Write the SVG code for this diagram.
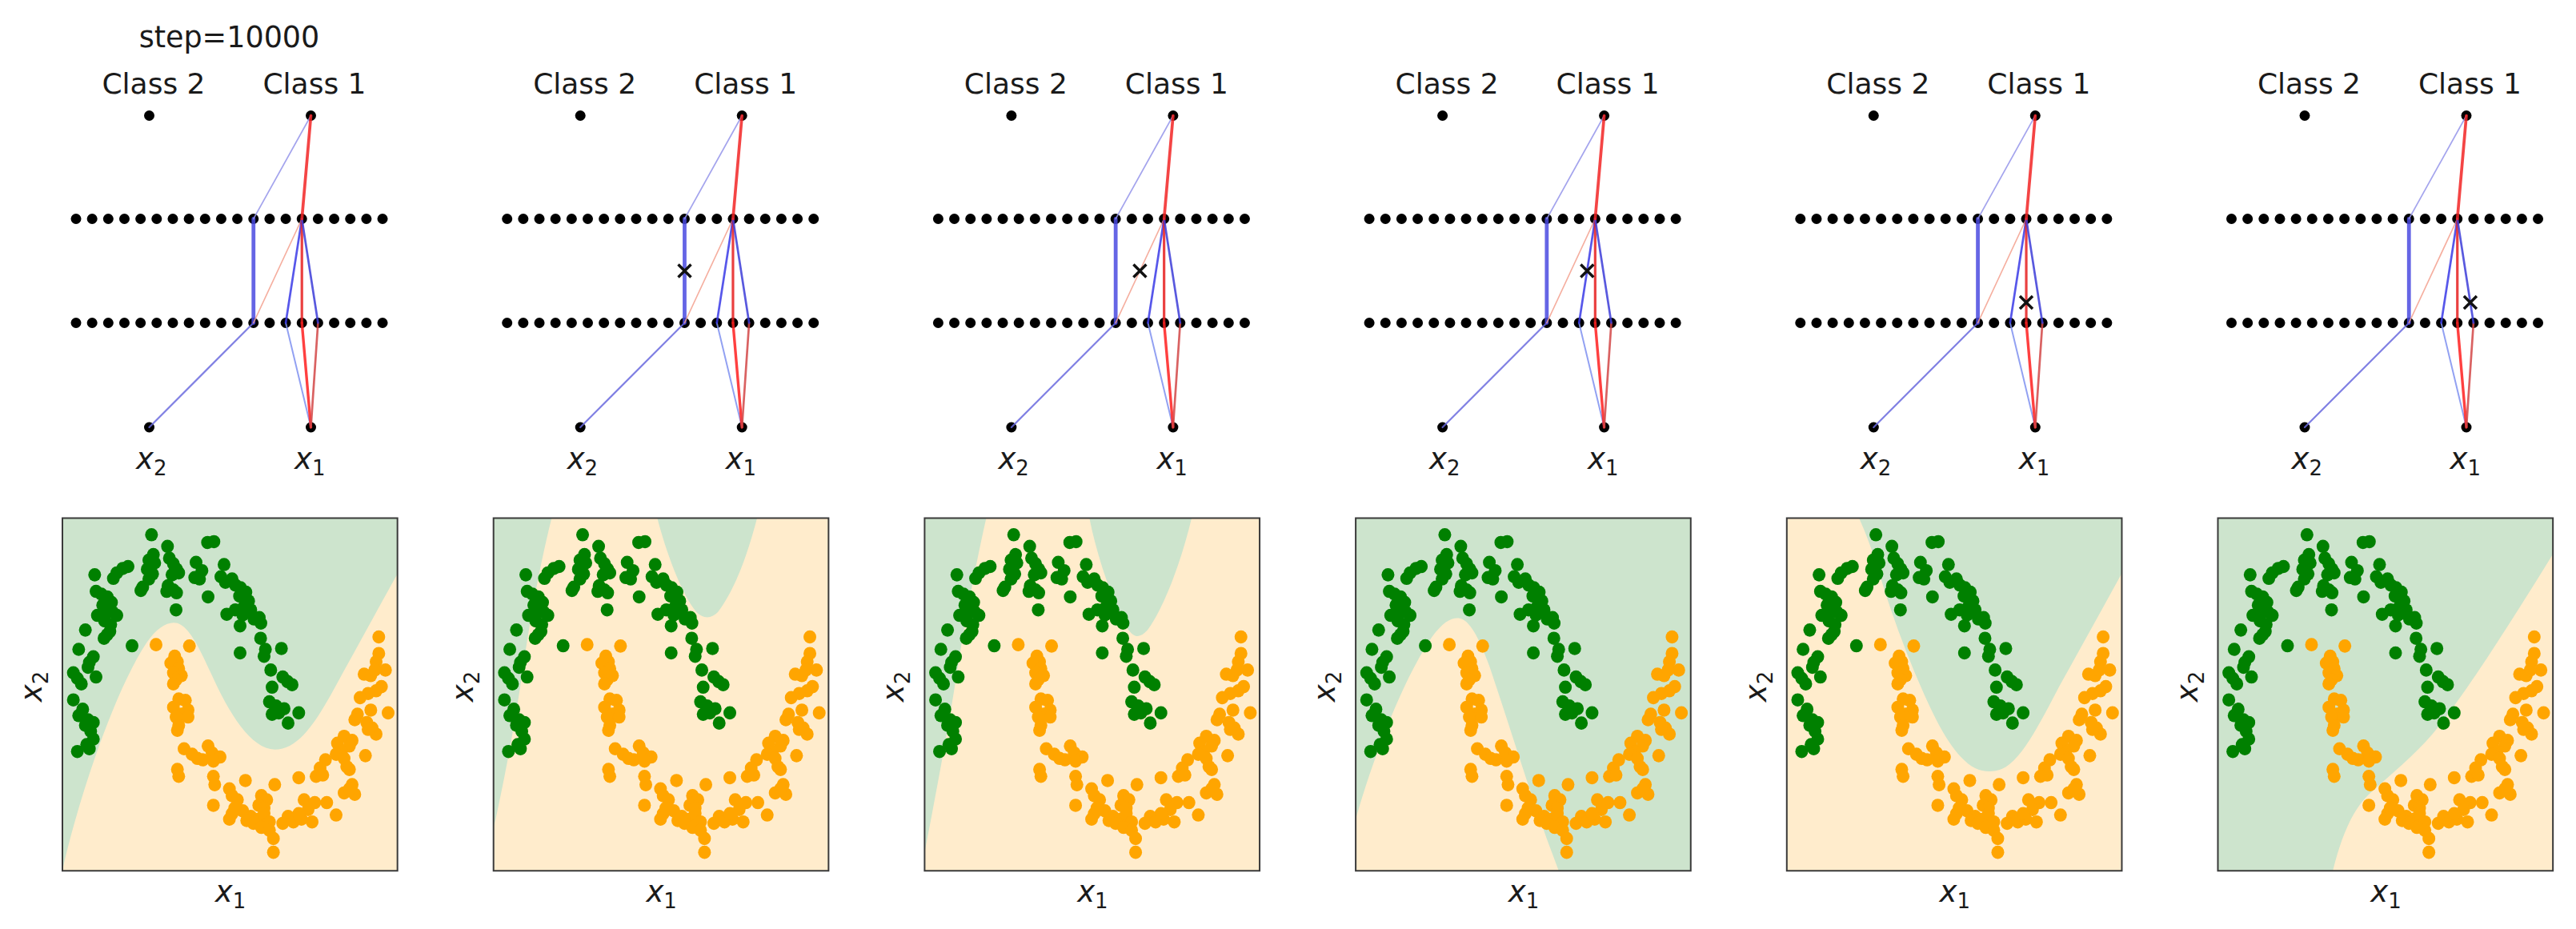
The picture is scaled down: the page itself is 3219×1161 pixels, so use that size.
<svg xmlns="http://www.w3.org/2000/svg" width="3219" height="1161" viewBox="0 0 3219 1161">
<style>
text{font-family:"DejaVu Sans","Liberation Sans",sans-serif;fill:#1a1a1a}
.lbl{font-size:36px}
.mi{font-size:37px;font-style:italic}
.sub{font-size:26px;font-style:normal}
.c{fill:none;stroke-linecap:round;opacity:0.85}
.mk{stroke:#111;stroke-width:3.5;fill:none}
.gbg{fill:#cde4cd}
.obg{fill:#ffeccc}
.box{fill:none;stroke:#3a3a3a;stroke-width:2}
#scatter circle{r:24px}
</style>
<defs>
<g id="row">
<circle cx="95" cy="0" r="6.5"/><circle cx="115.16" cy="0" r="6.5"/><circle cx="135.32" cy="0" r="6.5"/><circle cx="155.48" cy="0" r="6.5"/><circle cx="175.64" cy="0" r="6.5"/><circle cx="195.8" cy="0" r="6.5"/><circle cx="215.96" cy="0" r="6.5"/><circle cx="236.12" cy="0" r="6.5"/><circle cx="256.28" cy="0" r="6.5"/><circle cx="276.44" cy="0" r="6.5"/><circle cx="296.6" cy="0" r="6.5"/><circle cx="316.76" cy="0" r="6.5"/><circle cx="336.92" cy="0" r="6.5"/><circle cx="357.08" cy="0" r="6.5"/><circle cx="377.24" cy="0" r="6.5"/><circle cx="397.4" cy="0" r="6.5"/><circle cx="417.56" cy="0" r="6.5"/><circle cx="437.72" cy="0" r="6.5"/><circle cx="457.88" cy="0" r="6.5"/><circle cx="478.04" cy="0" r="6.5"/>
</g>
<g id="wires">
<line class="c" x1="186.5" y1="534" x2="316.76" y2="403.5" stroke="#6a6ade" stroke-width="2.2"/>
<line class="c" x1="388.5" y1="534" x2="357.08" y2="403.5" stroke="#7f90f0" stroke-width="2"/>
<line class="c" x1="388.5" y1="534" x2="377.24" y2="403.5" stroke="#ff1e1e" stroke-width="3.4"/>
<line class="c" x1="388.5" y1="534" x2="397.4" y2="403.5" stroke="#d24646" stroke-width="2.7"/>
<line class="c" x1="316.76" y1="403.5" x2="316.76" y2="273.5" stroke="#4a4ae0" stroke-width="4.8"/>
<line class="c" x1="316.76" y1="403.5" x2="377.24" y2="273.5" stroke="#f3a08e" stroke-width="1.7"/>
<line class="c" x1="357.08" y1="403.5" x2="377.24" y2="273.5" stroke="#3a3ae6" stroke-width="2.7"/>
<line class="c" x1="377.24" y1="403.5" x2="377.24" y2="273.5" stroke="#e61e1e" stroke-width="3.2"/>
<line class="c" x1="397.4" y1="403.5" x2="377.24" y2="273.5" stroke="#3c3cd8" stroke-width="2.7"/>
<line class="c" x1="316.76" y1="273.5" x2="388.5" y2="144.5" stroke="#9494ea" stroke-width="1.7"/>
<line class="c" x1="377.24" y1="273.5" x2="388.5" y2="144.5" stroke="#f22424" stroke-width="3.7"/>
</g>
<g id="scatter">
<g fill="#008000">
<circle cx="388" cy="140" r="24"/><circle cx="448" cy="182" r="24"/><circle cx="598" cy="168" r="24"/><circle cx="622" cy="165" r="24"/>
<circle cx="395" cy="212" r="24"/><circle cx="378" cy="232" r="24"/><circle cx="400" cy="242" r="24"/><circle cx="372" cy="265" r="24"/><circle cx="392" cy="282" r="24"/><circle cx="378" cy="300" r="24"/>
<circle cx="455" cy="225" r="24"/><circle cx="470" cy="245" r="24"/><circle cx="482" cy="265" r="24"/><circle cx="465" cy="285" r="24"/><circle cx="490" cy="278" r="24"/>
<circle cx="300" cy="255" r="24"/><circle cx="280" cy="262" r="24"/><circle cx="258" cy="278" r="24"/><circle cx="245" cy="298" r="24"/>
<circle cx="175" cy="285" r="24"/>
<circle cx="555" cy="240" r="24"/><circle cx="577" cy="270" r="24"/><circle cx="550" cy="295" r="24"/><circle cx="568" cy="300" r="24"/>
<circle cx="660" cy="248" r="24"/><circle cx="648" cy="292" r="24"/><circle cx="665" cy="312" r="24"/><circle cx="690" cy="300" r="24"/><circle cx="702" cy="322" r="24"/><circle cx="722" cy="332" r="24"/><circle cx="742" cy="348" r="24"/><circle cx="718" cy="362" r="24"/><circle cx="752" cy="380" r="24"/><circle cx="735" cy="400" r="24"/><circle cx="760" cy="412" r="24"/>
<circle cx="355" cy="330" r="24"/><circle cx="348" cy="342" r="24"/>
<circle cx="450" cy="325" r="24"/><circle cx="470" cy="340" r="24"/><circle cx="445" cy="345" r="24"/><circle cx="482" cy="350" r="24"/>
<circle cx="600" cy="365" r="24"/>
<circle cx="180" cy="345" r="24"/><circle cx="200" cy="355" r="24"/><circle cx="222" cy="365" r="24"/><circle cx="238" cy="385" r="24"/><circle cx="205" cy="395" r="24"/><circle cx="215" cy="410" r="24"/><circle cx="242" cy="420" r="24"/><circle cx="185" cy="432" r="24"/><circle cx="258" cy="432" r="24"/><circle cx="212" cy="452" r="24"/><circle cx="235" cy="465" r="24"/>
<circle cx="480" cy="412" r="24"/>
<circle cx="670" cy="428" r="24"/><circle cx="702" cy="412" r="24"/><circle cx="730" cy="430" r="24"/><circle cx="772" cy="445" r="24"/><circle cx="792" cy="440" r="24"/><circle cx="798" cy="460" r="24"/>
<circle cx="140" cy="485" r="24"/><circle cx="232" cy="490" r="24"/><circle cx="210" cy="515" r="24"/><circle cx="222" cy="502" r="24"/>
<circle cx="720" cy="470" r="24"/>
<circle cx="315" cy="542" r="24"/>
<circle cx="797" cy="515" r="24"/><circle cx="815" cy="555" r="24"/><circle cx="875" cy="552" r="24"/>
<circle cx="115" cy="555" r="24"/>
<circle cx="170" cy="582" r="24"/><circle cx="155" cy="602" r="24"/><circle cx="150" cy="620" r="24"/>
<circle cx="720" cy="568" r="24"/><circle cx="810" cy="580" r="24"/>
<circle cx="95" cy="640" r="24"/><circle cx="110" cy="660" r="24"/><circle cx="125" cy="680" r="24"/><circle cx="180" cy="655" r="24"/>
<circle cx="835" cy="630" r="24"/><circle cx="880" cy="655" r="24"/><circle cx="915" cy="683" r="24"/><circle cx="898" cy="672" r="24"/>
<circle cx="840" cy="692" r="24"/>
<circle cx="95" cy="738" r="24"/><circle cx="130" cy="772" r="24"/><circle cx="115" cy="795" r="24"/><circle cx="150" cy="810" r="24"/><circle cx="170" cy="820" r="24"/><circle cx="140" cy="830" r="24"/>
<circle cx="830" cy="745" r="24"/><circle cx="855" cy="760" r="24"/><circle cx="885" cy="770" r="24"/><circle cx="940" cy="785" r="24"/><circle cx="840" cy="790" r="24"/><circle cx="865" cy="785" r="24"/><circle cx="900" cy="822" r="24"/>
<circle cx="160" cy="852" r="24"/><circle cx="170" cy="880" r="24"/><circle cx="145" cy="900" r="24"/><circle cx="110" cy="925" r="24"/><circle cx="155" cy="915" r="24"/>
</g>
<g fill="#ffa500">
<circle cx="1240" cy="510" r="24"/>
<circle cx="405" cy="538" r="24"/><circle cx="530" cy="543" r="24"/>
<circle cx="475" cy="580" r="24"/><circle cx="485" cy="600" r="24"/><circle cx="460" cy="605" r="24"/><circle cx="490" cy="625" r="24"/><circle cx="470" cy="640" r="24"/><circle cx="500" cy="650" r="24"/><circle cx="480" cy="665" r="24"/><circle cx="470" cy="680" r="24"/>
<circle cx="1240" cy="570" r="24"/><circle cx="1230" cy="600" r="24"/><circle cx="1265" cy="630" r="24"/><circle cx="1185" cy="645" r="24"/><circle cx="1210" cy="650" r="24"/><circle cx="1225" cy="630" r="24"/>
<circle cx="1250" cy="690" r="24"/><circle cx="1230" cy="705" r="24"/><circle cx="1200" cy="715" r="24"/><circle cx="1170" cy="730" r="24"/>
<circle cx="490" cy="735" r="24"/><circle cx="515" cy="740" r="24"/><circle cx="470" cy="765" r="24"/><circle cx="525" cy="775" r="24"/><circle cx="500" cy="790" r="24"/><circle cx="480" cy="800" r="24"/><circle cx="525" cy="800" r="24"/><circle cx="490" cy="830" r="24"/><circle cx="485" cy="848" r="24"/>
<circle cx="1160" cy="790" r="24"/><circle cx="1210" cy="775" r="24"/><circle cx="1275" cy="785" r="24"/><circle cx="1150" cy="810" r="24"/><circle cx="1195" cy="820" r="24"/><circle cx="1215" cy="840" r="24"/><circle cx="1230" cy="862" r="24"/><circle cx="1200" cy="845" r="24"/>
<circle cx="1110" cy="870" r="24"/><circle cx="1140" cy="885" r="24"/><circle cx="1085" cy="895" r="24"/><circle cx="1130" cy="905" r="24"/><circle cx="1100" cy="925" r="24"/><circle cx="1080" cy="935" r="24"/><circle cx="1110" cy="950" r="24"/><circle cx="1190" cy="940" r="24"/><circle cx="1120" cy="980" r="24"/>
<circle cx="510" cy="915" r="24"/><circle cx="540" cy="935" r="24"/><circle cx="600" cy="905" r="24"/><circle cx="615" cy="930" r="24"/><circle cx="645" cy="945" r="24"/><circle cx="580" cy="955" r="24"/><circle cx="620" cy="960" r="24"/><circle cx="560" cy="950" r="24"/>
<circle cx="1040" cy="955" r="24"/><circle cx="1020" cy="985" r="24"/><circle cx="1005" cy="1015" r="24"/><circle cx="1130" cy="990" r="24"/>
<circle cx="485" cy="990" r="24"/><circle cx="490" cy="1015" r="24"/>
<circle cx="940" cy="1020" r="24"/><circle cx="1030" cy="1010" r="24"/>
<circle cx="620" cy="1015" r="24"/><circle cx="625" cy="1045" r="24"/><circle cx="740" cy="1030" r="24"/><circle cx="850" cy="1045" r="24"/>
<circle cx="1140" cy="1045" r="24"/><circle cx="1110" cy="1075" r="24"/><circle cx="1150" cy="1080" r="24"/><circle cx="1130" cy="1060" r="24"/>
<circle cx="680" cy="1060" r="24"/><circle cx="690" cy="1085" r="24"/><circle cx="710" cy="1100" r="24"/><circle cx="800" cy="1085" r="24"/><circle cx="820" cy="1100" r="24"/><circle cx="790" cy="1120" r="24"/><circle cx="810" cy="1130" r="24"/>
<circle cx="620" cy="1120" r="24"/><circle cx="960" cy="1100" r="24"/><circle cx="1000" cy="1110" r="24"/><circle cx="1045" cy="1110" r="24"/><circle cx="1080" cy="1155" r="24"/><circle cx="975" cy="1135" r="24"/>
<circle cx="690" cy="1150" r="24"/><circle cx="730" cy="1140" r="24"/><circle cx="760" cy="1160" r="24"/><circle cx="790" cy="1170" r="24"/><circle cx="810" cy="1150" r="24"/><circle cx="830" cy="1180" r="24"/><circle cx="745" cy="1175" r="24"/><circle cx="770" cy="1185" r="24"/>
<circle cx="900" cy="1160" r="24"/><circle cx="880" cy="1185" r="24"/><circle cx="920" cy="1180" r="24"/><circle cx="950" cy="1170" r="24"/><circle cx="990" cy="1180" r="24"/><circle cx="940" cy="1150" r="24"/>
<circle cx="800" cy="1200" r="24"/><circle cx="830" cy="1210" r="24"/><circle cx="845" cy="1240" r="24"/><circle cx="845" cy="1290" r="24"/>
<circle cx="680" cy="1170" r="24"/><circle cx="700" cy="1130" r="24"/>
</g>
</g>
<path id="mark" d="M-8,-8 L8,8 M-8,8 L8,-8"/>
</defs>
<rect width="3219" height="1161" fill="#ffffff"/>

<text class="lbl" x="286.5" y="59" text-anchor="middle" style="font-size:36.5px">step=10000</text>

<!-- Panel 1 -->
<g id="panel-1">
<g id="net-1">
<text class="lbl" x="192" y="117" text-anchor="middle">Class 2</text>
<text class="lbl" x="393" y="117" text-anchor="middle">Class 1</text>
<g id="neurons-1">
<circle id="out2-1" cx="186.5" cy="144.5" r="6.5"/><circle id="out1-1" cx="388.5" cy="144.5" r="6.5"/>
<use href="#row" y="273.5"/><use href="#row" y="403.5"/>
<circle id="in2-1" cx="186.5" cy="534" r="6.5"/><circle id="in1-1" cx="388.5" cy="534" r="6.5"/>
</g>
<g id="connectors-1"><use href="#wires"/></g>
<text class="mi" x="170" y="586">x<tspan class="sub" dy="8">2</tspan></text>
<text class="mi" x="368" y="586">x<tspan class="sub" dy="8">1</tspan></text>
</g>
<g id="plot-1">
<g transform="translate(60,620) scale(0.33333,0.34507)">
<rect class="gbg" x="54" y="80" width="1256" height="1277"/>
<path class="obg" d="M54,1357 L60,1330 C110,1120 240,720 370,530 C410,475 450,452 485,460 C530,475 565,545 610,640 C680,790 760,915 850,918 C930,918 990,840 1060,720 C1140,580 1230,420 1310,282 L1310,1357 Z"/>
<use href="#scatter"/>
<rect class="box" x="54" y="80" width="1256" height="1277" vector-effect="non-scaling-stroke"/>
</g>
<text class="mi" x="288" y="1127" text-anchor="middle">x<tspan class="sub" dy="8">1</tspan></text>
<text class="mi" transform="translate(52,858) rotate(-90)" text-anchor="middle">x<tspan class="sub" dy="8">2</tspan></text>
</g>
</g>

<!-- Panel 2 -->
<g id="panel-2" transform="translate(538.7,0)">
<g id="net-2">
<text class="lbl" x="192" y="117" text-anchor="middle">Class 2</text>
<text class="lbl" x="393" y="117" text-anchor="middle">Class 1</text>
<g id="neurons-2">
<circle cx="186.5" cy="144.5" r="6.5"/><circle cx="388.5" cy="144.5" r="6.5"/>
<use href="#row" y="273.5"/><use href="#row" y="403.5"/>
<circle cx="186.5" cy="534" r="6.5"/><circle cx="388.5" cy="534" r="6.5"/>
</g>
<g id="connectors-2"><use href="#wires"/></g>
<use href="#mark" class="mk" x="316.8" y="338.5"/>
<text class="mi" x="170" y="586">x<tspan class="sub" dy="8">2</tspan></text>
<text class="mi" x="368" y="586">x<tspan class="sub" dy="8">1</tspan></text>
</g>
<g id="plot-2">
<g transform="translate(60,620) scale(0.33333,0.34507)">
<rect class="obg" x="54" y="80" width="1256" height="1277"/>
<path class="gbg" d="M54,80 L272,80 C235,220 195,420 165,620 C135,820 100,1000 62,1170 L54,1200 Z"/>
<path class="gbg" d="M668,80 C700,200 760,360 815,420 C840,445 870,445 895,420 C960,340 1010,200 1042,80 Z"/>
<use href="#scatter"/>
<rect class="box" x="54" y="80" width="1256" height="1277" vector-effect="non-scaling-stroke"/>
</g>
<text class="mi" x="288" y="1127" text-anchor="middle">x<tspan class="sub" dy="8">1</tspan></text>
<text class="mi" transform="translate(52,858) rotate(-90)" text-anchor="middle">x<tspan class="sub" dy="8">2</tspan></text>
</g>
</g>

<!-- Panel 3 -->
<g id="panel-3" transform="translate(1077.4,0)">
<g id="net-3">
<text class="lbl" x="192" y="117" text-anchor="middle">Class 2</text>
<text class="lbl" x="393" y="117" text-anchor="middle">Class 1</text>
<g id="neurons-3">
<circle cx="186.5" cy="144.5" r="6.5"/><circle cx="388.5" cy="144.5" r="6.5"/>
<use href="#row" y="273.5"/><use href="#row" y="403.5"/>
<circle cx="186.5" cy="534" r="6.5"/><circle cx="388.5" cy="534" r="6.5"/>
</g>
<g id="connectors-3"><use href="#wires"/></g>
<use href="#mark" class="mk" x="347" y="338.5"/>
<text class="mi" x="170" y="586">x<tspan class="sub" dy="8">2</tspan></text>
<text class="mi" x="368" y="586">x<tspan class="sub" dy="8">1</tspan></text>
</g>
<g id="plot-3">
<g transform="translate(60,620) scale(0.33333,0.34507)">
<rect class="obg" x="54" y="80" width="1256" height="1277"/>
<path class="gbg" d="M54,80 L285,80 C250,230 205,450 175,640 C145,830 100,1060 62,1250 L54,1290 Z"/>
<path class="gbg" d="M672,80 C700,220 765,400 815,480 C840,515 862,515 890,485 C960,390 1020,220 1055,80 Z"/>
<use href="#scatter"/>
<rect class="box" x="54" y="80" width="1256" height="1277" vector-effect="non-scaling-stroke"/>
</g>
<text class="mi" x="288" y="1127" text-anchor="middle">x<tspan class="sub" dy="8">1</tspan></text>
<text class="mi" transform="translate(52,858) rotate(-90)" text-anchor="middle">x<tspan class="sub" dy="8">2</tspan></text>
</g>
</g>

<!-- Panel 4 -->
<g id="panel-4" transform="translate(1616.1,0)">
<g id="net-4">
<text class="lbl" x="192" y="117" text-anchor="middle">Class 2</text>
<text class="lbl" x="393" y="117" text-anchor="middle">Class 1</text>
<g id="neurons-4">
<circle cx="186.5" cy="144.5" r="6.5"/><circle cx="388.5" cy="144.5" r="6.5"/>
<use href="#row" y="273.5"/><use href="#row" y="403.5"/>
<circle cx="186.5" cy="534" r="6.5"/><circle cx="388.5" cy="534" r="6.5"/>
</g>
<g id="connectors-4"><use href="#wires"/></g>
<use href="#mark" class="mk" x="367.2" y="338.5"/>
<text class="mi" x="170" y="586">x<tspan class="sub" dy="8">2</tspan></text>
<text class="mi" x="368" y="586">x<tspan class="sub" dy="8">1</tspan></text>
</g>
<g id="plot-4">
<g transform="translate(60,620) scale(0.33333,0.34507)">
<rect class="gbg" x="54" y="80" width="1256" height="1277"/>
<path class="obg" d="M54,1357 L54,1170 C110,980 220,680 340,510 C380,458 410,440 440,442 C480,446 515,510 555,615 C620,800 700,1050 770,1240 L815,1357 Z"/>
<use href="#scatter"/>
<rect class="box" x="54" y="80" width="1256" height="1277" vector-effect="non-scaling-stroke"/>
</g>
<text class="mi" x="288" y="1127" text-anchor="middle">x<tspan class="sub" dy="8">1</tspan></text>
<text class="mi" transform="translate(52,858) rotate(-90)" text-anchor="middle">x<tspan class="sub" dy="8">2</tspan></text>
</g>
</g>

<!-- Panel 5 -->
<g id="panel-5" transform="translate(2154.8,0)">
<g id="net-5">
<text class="lbl" x="192" y="117" text-anchor="middle">Class 2</text>
<text class="lbl" x="393" y="117" text-anchor="middle">Class 1</text>
<g id="neurons-5">
<circle cx="186.5" cy="144.5" r="6.5"/><circle cx="388.5" cy="144.5" r="6.5"/>
<use href="#row" y="273.5"/><use href="#row" y="403.5"/>
<circle cx="186.5" cy="534" r="6.5"/><circle cx="388.5" cy="534" r="6.5"/>
</g>
<g id="connectors-5"><use href="#wires"/></g>
<use href="#mark" class="mk" x="377.2" y="378"/>
<text class="mi" x="170" y="586">x<tspan class="sub" dy="8">2</tspan></text>
<text class="mi" x="368" y="586">x<tspan class="sub" dy="8">1</tspan></text>
</g>
<g id="plot-5">
<g transform="translate(60,620) scale(0.33333,0.34507)">
<rect class="obg" x="54" y="80" width="1256" height="1277"/>
<path class="gbg" d="M325,80 L1310,80 L1310,280 C1230,420 1150,560 1075,690 C1000,830 930,960 860,988 C830,1000 790,1000 760,985 C690,950 630,850 570,720 C500,570 440,410 395,260 C372,190 348,130 325,80 Z"/>
<use href="#scatter"/>
<rect class="box" x="54" y="80" width="1256" height="1277" vector-effect="non-scaling-stroke"/>
</g>
<text class="mi" x="288" y="1127" text-anchor="middle">x<tspan class="sub" dy="8">1</tspan></text>
<text class="mi" transform="translate(52,858) rotate(-90)" text-anchor="middle">x<tspan class="sub" dy="8">2</tspan></text>
</g>
</g>

<!-- Panel 6 -->
<g id="panel-6" transform="translate(2693.5,0)">
<g id="net-6">
<text class="lbl" x="192" y="117" text-anchor="middle">Class 2</text>
<text class="lbl" x="393" y="117" text-anchor="middle">Class 1</text>
<g id="neurons-6">
<circle cx="186.5" cy="144.5" r="6.5"/><circle cx="388.5" cy="144.5" r="6.5"/>
<use href="#row" y="273.5"/><use href="#row" y="403.5"/>
<circle cx="186.5" cy="534" r="6.5"/><circle cx="388.5" cy="534" r="6.5"/>
</g>
<g id="connectors-6"><use href="#wires"/></g>
<use href="#mark" class="mk" x="393.4" y="378"/>
<text class="mi" x="170" y="586">x<tspan class="sub" dy="8">2</tspan></text>
<text class="mi" x="368" y="586">x<tspan class="sub" dy="8">1</tspan></text>
</g>
<g id="plot-6">
<g transform="translate(60,620) scale(0.33333,0.34507)">
<rect class="gbg" x="54" y="80" width="1256" height="1277"/>
<path class="obg" d="M485,1357 C515,1240 555,1140 620,1080 C700,1010 790,940 860,860 C980,720 1150,460 1310,210 L1310,1357 Z"/>
<use href="#scatter"/>
<rect class="box" x="54" y="80" width="1256" height="1277" vector-effect="non-scaling-stroke"/>
</g>
<text class="mi" x="288" y="1127" text-anchor="middle">x<tspan class="sub" dy="8">1</tspan></text>
<text class="mi" transform="translate(52,858) rotate(-90)" text-anchor="middle">x<tspan class="sub" dy="8">2</tspan></text>
</g>
</g>
</svg>
